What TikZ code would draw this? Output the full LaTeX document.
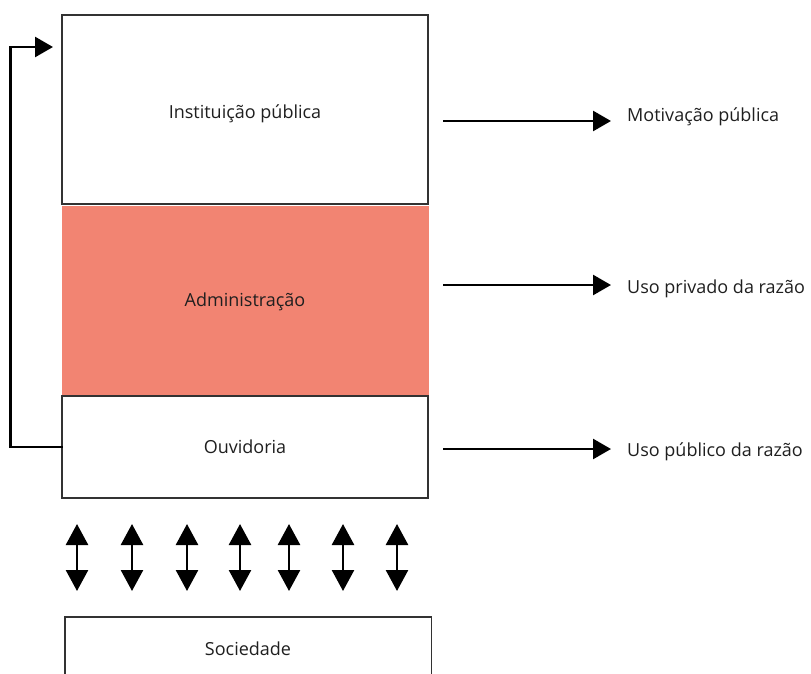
\documentclass[tikz,border=0pt]{standalone}
\usepackage{fontspec}
\setmainfont{Open Sans}
\usetikzlibrary{arrows.meta,calc}
\definecolor{salmon}{RGB}{242,132,114}
\definecolor{boxline}{RGB}{50,50,50}
\tikzset{
  box/.style={draw=boxline,line width=1.4pt,fill=white,inner sep=0pt},
  lbl/.style={font=\fontsize{18}{21}\selectfont,text=black!88,inner sep=0pt},
  arr/.style={line width=2.6pt,-{Triangle[length=18pt,width=20pt]}},
  dbl/.style={line width=2.6pt,{Triangle[length=21pt,width=22pt]}-{Triangle[length=21pt,width=22pt]}},
}
\begin{document}
\begin{tikzpicture}[x=1pt,y=-1pt]
\useasboundingbox (0,0) rectangle (811,674);
% boxes
\node[box,minimum width=366pt,minimum height=189pt] (inst) at (245,109.5) {};
\node[lbl,anchor=base] at (245,119) {Instituição pública};
\node[fill=salmon,inner sep=0pt,minimum width=367pt,minimum height=189pt] (adm) at (245.5,300.5) {};
\node[lbl,anchor=base] at (245,306) {Administração};
\node[box,minimum width=366pt,minimum height=102pt] (ouv) at (245,447) {};
\node[lbl,anchor=base] at (245,453) {Ouvidoria};
\node[inner sep=0pt,minimum width=366pt,minimum height=60pt] (soc) at (248,647) {};
\node[lbl,anchor=base] at (248,655) {Sociedade};
\draw[boxline,line width=1.4pt] (soc.south west) -- (soc.north west) -- (soc.north east) -- (soc.south east);
% feedback arrow
\coordinate (fb) at (53,47);
\draw[arr,line cap=rect] (ouv.west) -- ++(-51,0) |- (fb);
% right labels
\node[lbl,anchor=base west] (m1) at (627,122) {Motivação pública};
\node[lbl,anchor=base west] (m2) at (627,293) {Uso privado da razão};
\node[lbl,anchor=base west] (m3) at (627,456) {Uso público da razão};
\coordinate (s1) at (443,121); \coordinate (e1) at (611,121);
\coordinate (s2) at (443,285); \coordinate (e2) at (611,285);
\coordinate (s3) at (443,449); \coordinate (e3) at (611,449);
\draw[arr] (s1) -- (e1);
\draw[arr] (s2) -- (e2);
\draw[arr] (s3) -- (e3);
% double arrows
\foreach \x [count=\i] in {77,132,187,240,289,343,397}{
  \coordinate (t\i) at (\x,524);
  \coordinate (b\i) at (\x,591);
  \draw[dbl] (t\i) -- (b\i);
}
\end{tikzpicture}
\end{document}
